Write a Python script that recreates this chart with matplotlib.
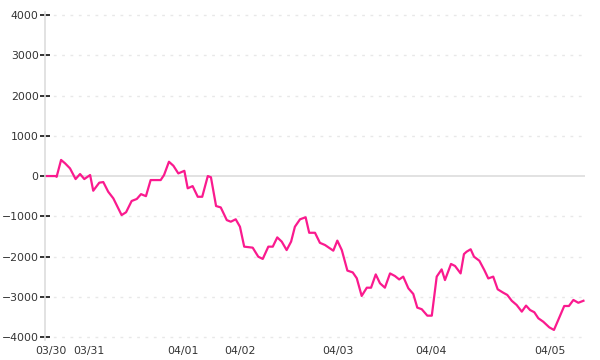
import matplotlib
matplotlib.use("Agg")
import matplotlib.pyplot as plt

# sample position (time-step index) and value
x_idx = [0, 4.0, 4.3, 6.3, 8.1, 10.3, 12.8, 14.8, 16.7, 19.3, 20.7, 23.4, 25.2, 27.4, 29.7,
         33.4, 35.4, 37.9, 40.2, 42.1, 44.3, 46.4, 50.9, 52.4, 54.6, 56.6, 58.8, 61.5, 63.0,
         65.2, 67.5, 69.5, 72.0, 73.4, 75.7, 77.8, 80.5, 82.3, 84.5, 86.4, 88.3, 92.1, 94.6,
         96.6, 99.1, 101.1, 103.1, 105.1, 107.3, 109.3, 111.0, 113.3, 115.8, 117.4, 120.0,
         122.2, 124.5, 128.2, 130.0, 132.0, 134.5, 136.9, 138.7, 140.9, 143.2, 145.1, 147.2,
         149.1, 151.3, 153.6, 155.8, 157.7, 159.5, 161.8, 164.0, 165.8, 167.8, 170.3, 172.3,
         174.5, 176.7, 178.2, 180.9, 182.7, 185.2, 186.7, 187.9, 189.7, 191.2, 193.6, 195.8,
         197.6, 199.8, 201.8, 204.3, 206.1, 208.1, 210.3, 212.6, 214.5, 216.3, 218.2, 220.0,
         222.2, 224.9, 227.0, 228.9, 231.6, 233.7, 235.7, 237.9, 240.2]
values = [0, 0, -20, 400, 315, 190, -75, 50, -75, 25, -365, -165, -150, -390, -555,
          -970, -900, -620, -570, -450, -500, -100, -100, 25, 355, 255, 65, 130, -305,
          -250, -515, -515, 0, -30, -745, -780, -1095, -1135, -1075, -1260, -1755, -1780, -2005,
          -2060, -1755, -1755, -1525, -1630, -1840, -1630, -1260, -1075, -1025, -1410, -1410,
          -1660, -1715, -1855, -1605, -1840, -2350, -2395, -2540, -2980, -2775, -2775, -2445,
          -2665, -2775, -2420, -2485, -2570, -2500, -2790, -2930, -3270, -3310, -3470, -3470,
          -2500, -2320, -2585, -2185, -2235, -2420, -1940, -1880, -1820, -2005, -2105, -2335,
          -2545, -2500, -2815, -2900, -2955, -3100, -3205, -3370, -3220, -3330, -3385, -3535,
          -3620, -3760, -3825, -3580, -3230, -3230, -3080, -3150, -3100]

tick_pos = [1.8, 18.8, 60.9, 86.2, 130.3, 172.0, 225.0]
tick_labels = ["03/30", "03/31", "04/01", "04/02", "04/03", "04/04", "04/05"]
y_ticks = [-4000, -3000, -2000, -1000, 0, 1000, 2000, 3000, 4000]

fig = plt.figure(figsize=(6, 3.6), dpi=100)
ax = fig.add_axes([0.075, 0.055, 0.9, 0.912])

for yv in y_ticks:
    if yv == 0:
        ax.axhline(0, color="#dddddd", lw=1.2, zorder=1)
    else:
        ax.axhline(yv, color="#e8e8e8", lw=1.0, ls=(0, (2, 4)), zorder=1)

ax.plot(x_idx, values, color="#fa1a8e", lw=1.6, zorder=3)

ax.set_xlim(-0.9, 240.9)
ax.set_ylim(-4080, 4080)
ax.set_yticks(y_ticks)
ax.set_yticklabels([str(v).replace("-", "\u2212") for v in y_ticks])
ax.set_xticks(tick_pos)
ax.set_xticklabels(tick_labels)

for s in ["top", "right", "bottom"]:
    ax.spines[s].set_visible(False)
ax.spines["left"].set_color("#dddddd")
ax.spines["left"].set_linewidth(1.2)

ax.tick_params(axis="y", direction="inout", length=7, width=1.2, color="#111111",
               labelsize=7.8, labelcolor="#333333", pad=1)
ax.tick_params(axis="x", length=0, labelsize=7.8, labelcolor="#333333", pad=4)

fig.savefig("out.png", dpi=100)
